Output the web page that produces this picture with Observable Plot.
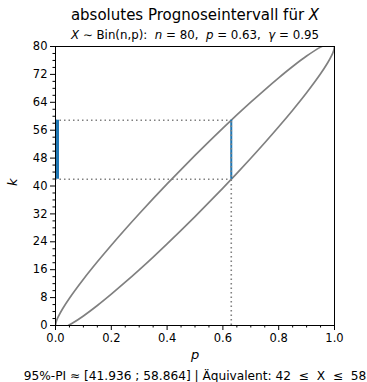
<!DOCTYPE html>
<html>
<head>
<meta charset="utf-8">
<script src="https://cdn.jsdelivr.net/npm/d3@7"></script>
<script src="https://cdn.jsdelivr.net/npm/@observablehq/plot@0.6"></script>
<style>
  html, body { margin: 0; padding: 0; background: #fff; }
  svg { display: block; }
  svg text { font-family: "DejaVu Sans" !important; }
</style>
</head>
<body>
<div id="chart"></div>
<script>
// ---- data ----
const n = 80;
const pSel = 0.63;
const gamma = 0.95;
const piLow = 41.936;
const piHigh = 58.864;
const kLow = 42;
const kHigh = 58;

const pUpper = [0, 0.002, 0.005, 0.01, 0.025, 0.05, 0.1, 0.15, 0.2, 0.25, 0.3, 0.35, 0.4, 0.45, 0.5, 0.55, 0.6, 0.65, 0.7, 0.75, 0.8, 0.85, 0.9, 0.95, 0.975];
const kUpper = [0, 0.943, 1.637, 2.544, 4.737, 7.821, 13.259, 18.260, 23.012, 27.591, 32.034, 36.362, 40.588, 44.721, 48.765, 52.721, 56.588, 60.362, 64.034, 67.591, 71.012, 74.260, 77.259, 79.821, 80.737];

const pLower = [0.0458, 0.06, 0.1, 0.15, 0.2, 0.25, 0.3, 0.35, 0.4, 0.45, 0.5, 0.55, 0.6, 0.65, 0.7, 0.75, 0.8, 0.85, 0.9, 0.95, 0.975, 0.99, 0.995, 0.998, 1];
const kLower = [0, 0.637, 2.741, 5.740, 8.988, 12.409, 15.966, 19.638, 23.412, 27.279, 31.235, 35.279, 39.412, 43.638, 47.966, 52.409, 56.988, 61.740, 66.741, 72.179, 75.263, 77.456, 78.364, 79.057, 80];

const xTicks = [0, 0.2, 0.4, 0.6, 0.8, 1.0];
const xMinor = [0.05, 0.1, 0.15, 0.25, 0.3, 0.35, 0.45, 0.5, 0.55, 0.65, 0.7, 0.75, 0.85, 0.9, 0.95];
const yTicks = [0, 8, 16, 24, 32, 40, 48, 56, 64, 72, 80];
const yMinor = d3.range(0, 81, 2).filter(v => v % 8 !== 0);

const titleText = "absolutes Prognoseintervall für X";
const subtitleText = "X ∼ Bin(n,p):  n = 80,  p = 0.63,  γ = 0.95";
const captionText = "95%-PI ≈ [41.936 ; 58.864] | Äquivalent: 42  ≤  X  ≤  58";

const upperData = pUpper.map((p, i) => ({p, k: kUpper[i]}));
const lowerData = pLower.map((p, i) => ({p, k: kLower[i]}));

const grey = "#808080";
const blue = "#1f77b4";
const dots = "1.5,3";

const chart = Plot.plot({
  width: 367,
  height: 382,
  marginLeft: 55,
  marginRight: 33,
  marginTop: 46,
  marginBottom: 57,
  style: {fontFamily: "DejaVu Sans", fontSize: "11.5px", color: "#000", background: "#fff"},
  x: {domain: [0, 1]},
  y: {domain: [0, 80]},
  marks: [
    Plot.line(upperData, {x: "p", y: "k", stroke: grey, strokeWidth: 1.7, curve: "catmull-rom", clip: true}),
    Plot.line(lowerData, {x: "p", y: "k", stroke: grey, strokeWidth: 1.7, curve: "catmull-rom", clip: true}),
    Plot.ruleY([piLow, piHigh], {x1: 0, x2: pSel, stroke: grey, strokeWidth: 1.6, strokeDasharray: dots}),
    Plot.ruleX([0], {y1: piLow, y2: piHigh, stroke: blue, strokeWidth: 7, clip: true}),
    Plot.ruleX([pSel], {y1: piLow, y2: piHigh, stroke: blue, strokeWidth: 2}),
    Plot.ruleX([pSel], {y1: 0, y2: piHigh, stroke: grey, strokeWidth: 1.6, strokeDasharray: dots}),
    Plot.frame({stroke: "#000", strokeWidth: 1}),
    Plot.axisX(xTicks, {tickSize: 5, tickFormat: d3.format(".1f"), tickPadding: 3, label: null, fontSize: 11.5}),
    Plot.axisX(xMinor, {tickSize: 2.5, text: null, label: null}),
    Plot.axisY(yTicks, {tickSize: 5, tickFormat: d => String(d), tickPadding: 3, label: null, fontSize: 11.5}),
    Plot.axisY(yMinor, {tickSize: 2.5, text: null, label: null}),
    Plot.text(["p"], {frameAnchor: "bottom", lineAnchor: "middle", dy: 29, fontSize: 13, fontStyle: "italic"}),
    Plot.text(["k"], {frameAnchor: "left", dx: -43, rotate: -90, fontSize: 13, fontStyle: "italic"}),
    Plot.text([titleText], {frameAnchor: "top", lineAnchor: "middle", dy: -31.5, fontSize: 15, className: "ttl"}),
    Plot.text([subtitleText], {frameAnchor: "top", lineAnchor: "middle", dy: -11.5, fontSize: 11.8, className: "sub"}),
    Plot.text([captionText], {frameAnchor: "bottom", lineAnchor: "middle", dy: 50.5, fontSize: 12.2, className: "cap"})
  ]
});

// italic math parts
const svg = d3.select(chart);
const ttl = svg.select("g.ttl text");
ttl.text(null);
ttl.append("tspan").text("absolutes Prognoseintervall für ");
ttl.append("tspan").attr("font-style", "italic").text("X");

const sub = svg.select("g.sub text");
sub.text(null);
const parts = [["X", true], [" ∼ Bin(n,p):  ", false], ["n", true], [" = 80,  ", false], ["p", true], [" = 0.63,  ", false], ["γ", true], [" = 0.95", false]];
parts.forEach(([t, it]) => {
  const s = sub.append("tspan").text(t);
  if (it) s.attr("font-style", "italic");
});
svg.selectAll("text").attr("xml:space", "preserve").style("white-space", "pre").attr("font-family", "DejaVu Sans");

document.getElementById("chart").appendChild(chart);
</script>
</body>
</html>
